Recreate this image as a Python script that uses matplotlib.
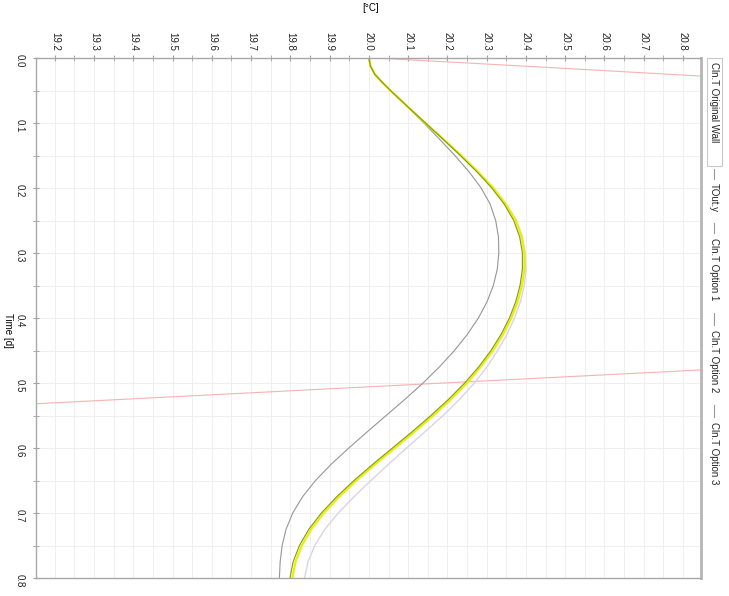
import matplotlib
matplotlib.use('Agg')
import matplotlib.pyplot as plt
import numpy as np
from matplotlib.ticker import MultipleLocator
from matplotlib.lines import Line2D
from matplotlib.patches import Rectangle

plt.rcParams['font.family'] = ['Liberation Sans', 'DejaVu Sans']

# tempo [d]
tempo = [0.000, 0.0125, 0.025, 0.0375, 0.050, 0.075, 0.100, 0.125, 0.150, 0.175, 0.200, 0.225, 0.250,
         0.275, 0.300, 0.325, 0.350, 0.375, 0.400, 0.425, 0.450, 0.475, 0.500, 0.525,
         0.550, 0.575, 0.600, 0.625, 0.650, 0.675, 0.700, 0.725, 0.750, 0.775, 0.800]

# temperaturas [°C]
parede_original = [20.000, 20.004, 20.015, 20.034, 20.055, 20.098, 20.140, 20.180, 20.219, 20.255, 20.286, 20.309, 20.323,
                   20.330, 20.331, 20.327, 20.317, 20.301, 20.279, 20.251, 20.218, 20.180, 20.138, 20.092,
                   20.044, 19.996, 19.949, 19.904, 19.864, 19.831, 19.806, 19.789, 19.779, 19.774, 19.772]
opcao1 = [20.000, 20.004, 20.015, 20.034, 20.055, 20.099, 20.144, 20.190, 20.235, 20.278, 20.317, 20.349, 20.374,
          20.389, 20.396, 20.396, 20.390, 20.379, 20.363, 20.342, 20.316, 20.285, 20.250, 20.209,
          20.164, 20.116, 20.066, 20.016, 19.968, 19.924, 19.885, 19.853, 19.829, 19.813, 19.805]
opcao2 = [20.000, 20.004, 20.015, 20.034, 20.055, 20.099, 20.144, 20.189, 20.233, 20.275, 20.313, 20.345, 20.369,
          20.384, 20.391, 20.391, 20.385, 20.374, 20.358, 20.337, 20.311, 20.280, 20.244, 20.203,
          20.158, 20.110, 20.060, 20.010, 19.962, 19.918, 19.879, 19.847, 19.823, 19.807, 19.799]
opcao3 = [20.000, 20.004, 20.015, 20.034, 20.055, 20.099, 20.144, 20.190, 20.235, 20.278, 20.317, 20.350, 20.376,
          20.391, 20.398, 20.400, 20.396, 20.386, 20.371, 20.352, 20.328, 20.301, 20.269, 20.231,
          20.189, 20.143, 20.096, 20.050, 20.005, 19.962, 19.922, 19.888, 19.862, 19.845, 19.836]

# temperatura externa (só os trechos visíveis)
tempo_ext = [0.000, 0.015, 0.030, 0.470, 0.500, 0.540]
tout = [20.02, 20.47, 20.91, 21.17, 20.19, 18.89]

ticks_temp = [19.2, 19.3, 19.4, 19.5, 19.6, 19.7, 19.8, 19.9, 20.0,
              20.1, 20.2, 20.3, 20.4, 20.5, 20.6, 20.7, 20.8]
ticks_tempo = [0.0, 0.1, 0.2, 0.3, 0.4, 0.5, 0.6, 0.7, 0.8]

nomes = ['Cln.T Original Wall', 'TOut.y', 'Cln.T Option 1', 'Cln.T Option 2', 'Cln.T Option 3']

W, H = 729, 596
fig = plt.figure(figsize=(W/100, H/100), dpi=100)
ax = fig.add_axes([36/W, 1-578/H, (701-36)/W, (578-58)/H])

ax.plot(tout, tempo_ext, color='#f4b4b0', lw=0.8)
ax.plot(parede_original, tempo, color='#969696', lw=0.8)
ax.plot(opcao3, tempo, color='#dcd2e6', lw=1.0)
ax.plot(opcao1, tempo, color='#e6f200', lw=1.6)
ax.plot(opcao2, tempo, color='#86961c', lw=0.8)

ax.set_xlim(19.152, 20.846)
ax.set_ylim(0.8, 0.0)
ax.xaxis.tick_top()
ax.set_xticks(ticks_temp)
ax.set_xticklabels([f'{v:.1f}' for v in ticks_temp])
ax.set_yticks(ticks_tempo)
ax.set_yticklabels([f'{v:.1f}' for v in ticks_tempo])
ax.xaxis.set_minor_locator(MultipleLocator(0.05))
ax.yaxis.set_minor_locator(MultipleLocator(0.05))
ax.grid(which='both', color='#ededed', lw=0.6)
ax.set_axisbelow(True)

ax.tick_params(axis='x', which='both', labelrotation=-90, labelsize=7, colors='#a0a0a0',
               labelcolor='#222222', direction='inout', length=4, pad=3)
ax.tick_params(axis='y', which='both', labelrotation=-90, labelsize=7, colors='#a0a0a0',
               labelcolor='#222222', direction='inout', length=4, pad=6)

for lado in ['top', 'left', 'bottom']:
    ax.spines[lado].set_color('#a8a8a8')
    ax.spines[lado].set_linewidth(1.0)
ax.spines['right'].set_color('#b5b5b5')
ax.spines['right'].set_linewidth(2.0)

fig.text(8/W, 1-330/H, 'Time [d]', rotation=-90, ha='center', va='center', fontsize=7)
fig.text(371/W, 1-8/H, '[°C]', ha='center', va='center', fontsize=7)

# legenda vertical
inicio_texto = [62, 183, 238, 330, 422]
tracos = [None, (169, 179), (223, 233), (313, 325), (405, 417)]
xl = 714
for nome, y0, tr in zip(nomes, inicio_texto, tracos):
    fig.text(xl/W, 1-y0/H, nome, rotation=-90, ha='center', va='top', fontsize=7, color='#222222')
    if tr is not None:
        fig.add_artist(Line2D([xl/W, xl/W], [1-tr[0]/H, 1-tr[1]/H], color='#9a9a9a', lw=0.8))
fig.add_artist(Rectangle((707/W, 1-166/H), 15/W, 108/H, fill=False, edgecolor='#c8c8c8', lw=0.8))

fig.savefig('out.png', dpi=100)
